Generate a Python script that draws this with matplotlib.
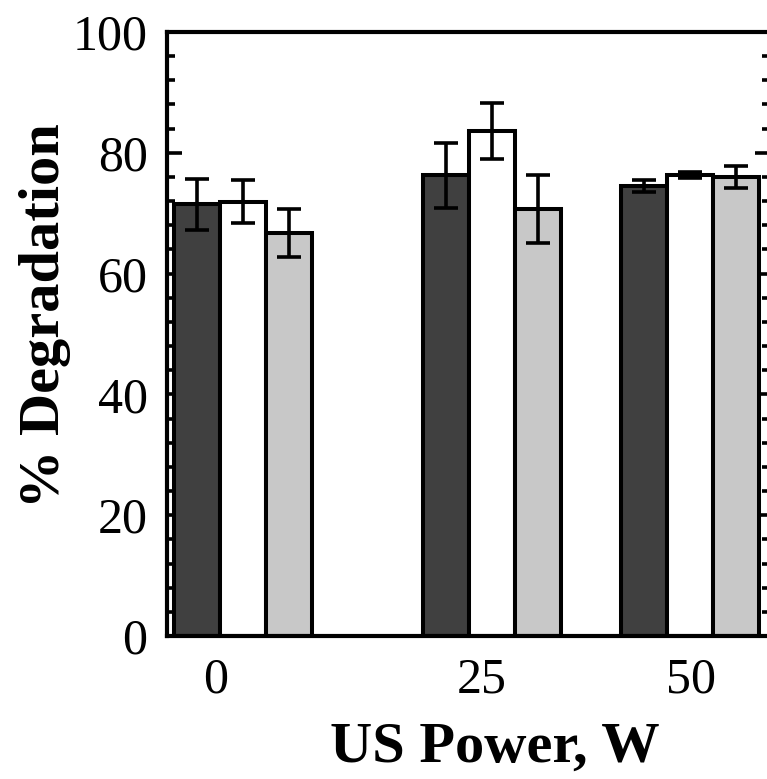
#!/usr/bin/env python3
"""% Degradation vs US power, three bar series with error bars."""

import numpy as np
import matplotlib.pyplot as plt
from matplotlib.ticker import MultipleLocator

# data
powers = ['0', '25', '50']
series_a = [71.5, 76.3, 74.5]   # dark grey
err_a = [4.2, 5.4, 1.0]
series_b = [71.9, 83.6, 76.3]   # white
err_b = [3.6, 4.6, 0.5]
series_c = [66.7, 70.7, 76.0]   # light grey
err_c = [4.0, 5.6, 1.8]

# layout (x in bar-width units)
group_centers = np.array([1.652, 7.076, 11.37])
tick_pos = [1.065, 6.85, 11.39]
barw = 1.0

darkcol = '#404040'
whitecol = '#ffffff'
greycol = '#c8c8c8'

plt.rcParams['font.family'] = ['Liberation Serif', 'DejaVu Serif']

W, H = 767, 779
fig = plt.figure(figsize=(W / 100, H / 100), dpi=100)
ax = fig.add_axes([167 / W, 1 - 636 / H, 603 / W, 604 / H])

for offs, vals, errs, col in [(-1, series_a, err_a, darkcol),
                              (0, series_b, err_b, whitecol),
                              (1, series_c, err_c, greycol)]:
    ax.bar(group_centers + offs * barw, vals, width=barw, color=col,
           edgecolor='black', linewidth=2.9, zorder=2)
    ax.errorbar(group_centers + offs * barw, vals, yerr=errs, fmt='none',
                ecolor='black', elinewidth=2.6, capsize=8.5, capthick=2.6,
                zorder=3)

ax.set_xlim(0, 13.11)
ax.set_ylim(0, 100)
ax.set_xticks(tick_pos)
ax.set_xticklabels(powers)
ax.yaxis.set_major_locator(MultipleLocator(20))
ax.yaxis.set_minor_locator(MultipleLocator(4))

for sp in ax.spines.values():
    sp.set_linewidth(3)
    sp.set_zorder(4)

ax.tick_params(axis='y', which='major', direction='in', length=11, width=2.6,
               labelsize=36, pad=14, left=True, right=True)
ax.tick_params(axis='y', which='minor', direction='in', length=6, width=2.6,
               left=True, right=True)
ax.tick_params(axis='x', which='both', length=0, labelsize=36, pad=15)

ax.set_ylabel('% Degradation', fontsize=42, fontweight='bold')
ax.yaxis.label.set_va('center')
ax.yaxis.set_label_coords(-0.202, 0.531)
ax.set_xlabel('US Power, W', fontsize=42, fontweight='bold')
ax.xaxis.label.set_va('baseline')
ax.xaxis.set_label_coords(0.544, -0.2086)

plt.savefig('out.png', dpi=100, facecolor='white')
plt.close()
